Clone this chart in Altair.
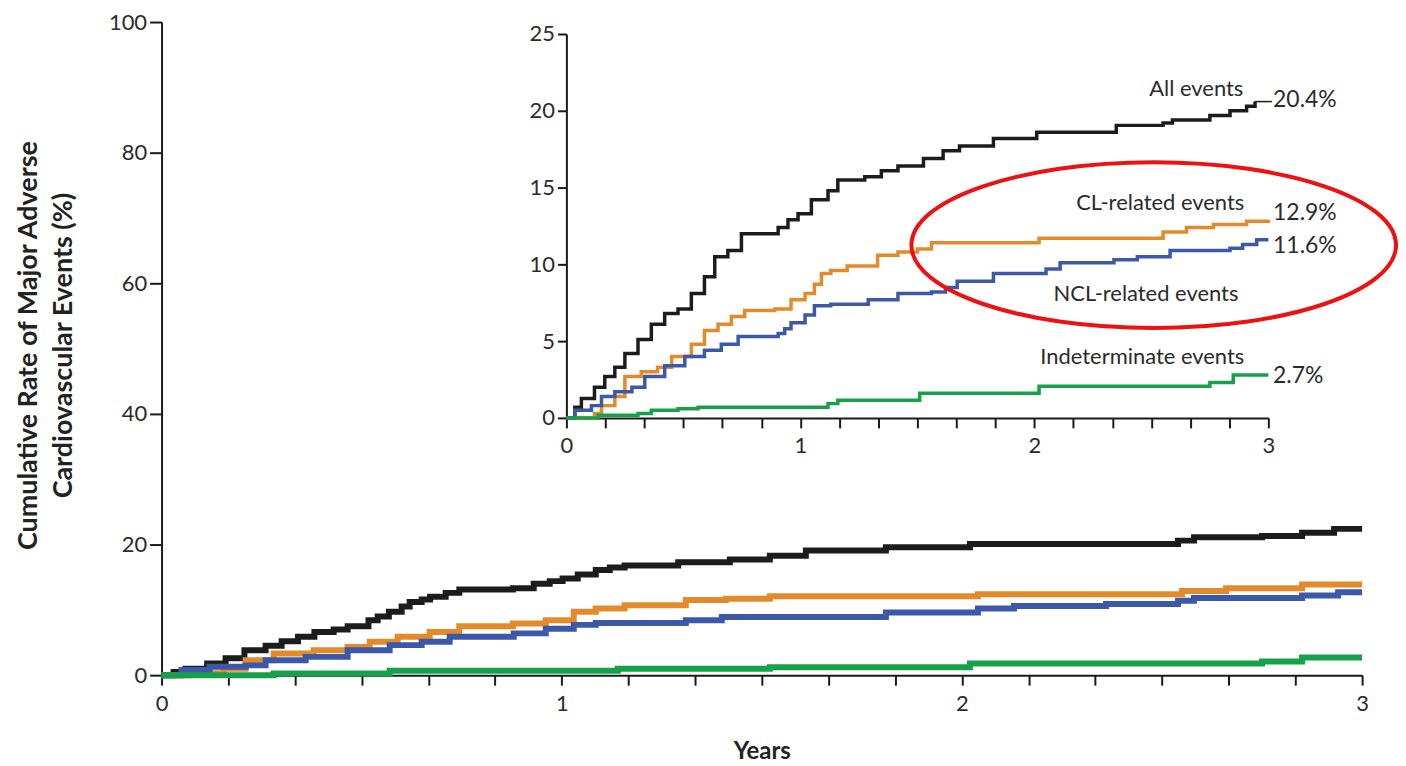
import altair as alt
import pandas as pd

# ---------------- data ----------------
series_names = ["All events", "CL-related events", "NCL-related events", "Indeterminate events"]
series_colors = ["#1c1c1c", "#e38a2a", "#3c58a8", "#17a04a"]

# main panel (0-100 %)
main_all_x = [0, 0.03, 0.06, 0.114, 0.16, 0.207, 0.26, 0.30, 0.341, 0.382, 0.43, 0.465, 0.517, 0.54, 0.568, 0.60, 0.620, 0.65, 0.671, 0.71, 0.744, 0.878, 0.93, 0.97, 1.002, 1.04, 1.085, 1.12, 1.157, 1.291, 1.42, 1.52, 1.61, 1.81, 2.02, 2.54, 2.58, 2.75, 2.85, 2.93, 3.0]
main_all_y = [0, 0.5, 1.0, 1.8, 2.6, 3.8, 4.5, 5.2, 5.9, 6.6, 7.0, 7.5, 8.4, 9.0, 9.7, 10.5, 11.2, 11.6, 12.0, 12.6, 13.1, 13.3, 14.0, 14.4, 14.8, 15.4, 16.1, 16.5, 16.8, 17.3, 17.7, 18.3, 19.1, 19.6, 20.1, 20.6, 21.1, 21.3, 21.8, 22.4, 22.4]
main_cl_x = [0, 0.07, 0.155, 0.21, 0.28, 0.38, 0.465, 0.52, 0.59, 0.67, 0.744, 0.878, 0.96, 1.03, 1.085, 1.157, 1.31, 1.41, 1.52, 2.04, 2.55, 2.66, 2.85, 3.0]
main_cl_y = [0, 0.3, 1.0, 2.3, 3.3, 3.8, 4.3, 5.1, 5.9, 6.6, 7.5, 7.9, 8.4, 9.7, 10.2, 10.7, 11.5, 11.7, 12.1, 12.4, 12.9, 13.3, 13.9, 13.9]
main_ncl_x = [0, 0.05, 0.12, 0.21, 0.26, 0.36, 0.465, 0.57, 0.65, 0.72, 0.88, 0.96, 1.03, 1.085, 1.31, 1.40, 1.81, 2.04, 2.13, 2.36, 2.54, 2.58, 2.85, 2.94, 3.0]
main_ncl_y = [0, 0.8, 1.3, 1.5, 2.3, 2.8, 3.8, 4.6, 5.1, 5.9, 6.4, 7.1, 7.7, 8.0, 8.4, 8.9, 9.6, 10.2, 10.6, 10.9, 11.4, 11.8, 12.2, 12.7, 12.7]
main_ind_x = [0, 0.28, 0.57, 1.14, 1.52, 2.02, 2.75, 2.85, 3.0]
main_ind_y = [0, 0.25, 0.66, 1.0, 1.2, 1.8, 2.1, 2.7, 2.7]

# inset panel (0-25 %)
ins_all_x = [0, 0.036, 0.064, 0.12, 0.164, 0.207, 0.25, 0.306, 0.363, 0.42, 0.477, 0.534, 0.59, 0.634, 0.69, 0.748, 0.905, 0.947, 0.99, 1.047, 1.118, 1.16, 1.275, 1.346, 1.417, 1.526, 1.61, 1.68, 1.825, 2.01, 2.35, 2.55, 2.59, 2.75, 2.836, 2.907, 2.943]
ins_all_y = [0, 0.7, 1.26, 2.0, 2.7, 3.3, 4.2, 5.1, 6.1, 6.8, 7.1, 8.1, 9.2, 10.5, 10.9, 12.0, 12.4, 12.9, 13.3, 14.2, 14.8, 15.5, 15.7, 16.1, 16.4, 16.9, 17.4, 17.7, 18.2, 18.6, 19.05, 19.2, 19.4, 19.7, 20.0, 20.3, 20.6]
ins_cl_x = [0, 0.12, 0.15, 0.207, 0.25, 0.32, 0.39, 0.45, 0.534, 0.59, 0.648, 0.705, 0.762, 0.89, 0.96, 1.02, 1.06, 1.09, 1.13, 1.2, 1.33, 1.417, 1.50, 1.56, 2.02, 2.55, 2.65, 2.765, 2.907, 3.0]
ins_cl_y = [0, 0.28, 0.8, 1.4, 2.7, 3.0, 3.3, 4.0, 4.8, 5.7, 6.1, 6.6, 7.0, 7.1, 7.7, 8.1, 8.7, 9.4, 9.6, 9.9, 10.6, 10.8, 11.0, 11.4, 11.7, 12.1, 12.4, 12.6, 12.8, 12.9]
ins_ncl_x = [0, 0.036, 0.107, 0.15, 0.207, 0.28, 0.335, 0.42, 0.506, 0.59, 0.662, 0.734, 0.905, 0.933, 0.96, 1.02, 1.06, 1.13, 1.29, 1.417, 1.56, 1.62, 1.67, 1.825, 2.05, 2.11, 2.34, 2.44, 2.58, 2.836, 2.89, 2.95, 3.0]
ins_ncl_y = [0, 0.5, 0.8, 1.4, 1.7, 2.0, 2.7, 3.4, 4.0, 4.4, 4.8, 5.3, 5.5, 5.8, 6.2, 6.7, 7.3, 7.4, 7.7, 8.1, 8.2, 8.5, 8.9, 9.4, 9.7, 10.1, 10.3, 10.5, 10.9, 11.05, 11.3, 11.6, 11.6]
ins_ind_x = [0, 0.135, 0.306, 0.363, 0.477, 0.563, 1.118, 1.16, 1.51, 2.02, 2.75, 2.85, 3.0]
ins_ind_y = [0, 0.17, 0.28, 0.5, 0.6, 0.7, 0.93, 1.15, 1.6, 2.06, 2.3, 2.8, 2.8]

# inset labels
name_labels = ["All events", "CL-related events", "NCL-related events", "Indeterminate events"]
name_x = [2.893, 2.897, 2.872, 2.897]
name_y = [21.4, 14.0, 8.1, 3.95]
pct_labels = ["20.4%", "12.9%", "11.6%", "2.7%"]
pct_x = [3.02, 3.02, 3.02, 3.02]
pct_y = [20.7, 13.35, 11.2, 2.7]
leader_x = [2.943]
leader_x2 = [3.015]
leader_y = [20.6]

# highlight ellipse (inset coordinates)
ellipse_x = [2.51]
ellipse_y = [11.25]

year_ticks = [i / 6 for i in range(19)]
main_y_ticks = [0, 20, 40, 60, 80, 100]
inset_y_ticks = [0, 5, 10, 15, 20, 25]

FONT = "Lato"
TXT = "#2b2b2b"

# ---------------- build tables ----------------
def long(xs_list, ys_list):
    rows = []
    for name, xs, ys in zip(series_names, xs_list, ys_list):
        for i, (x, y) in enumerate(zip(xs, ys)):
            rows.append({"series": name, "year": x, "rate": y, "order": i})
    return pd.DataFrame(rows)

main_df = long([main_all_x, main_cl_x, main_ncl_x, main_ind_x],
               [main_all_y, main_cl_y, main_ncl_y, main_ind_y])
ins_df = long([ins_all_x, ins_cl_x, ins_ncl_x, ins_ind_x],
              [ins_all_y, ins_cl_y, ins_ncl_y, ins_ind_y])
name_df = pd.DataFrame({"label": name_labels, "x": name_x, "y": name_y})
pct_df = pd.DataFrame({"label": pct_labels, "x": pct_x, "y": pct_y})
leader_df = pd.DataFrame({"x": leader_x, "x2": leader_x2, "y": leader_y})
ell_df = pd.DataFrame({"x": ellipse_x, "y": ellipse_y})

W, H = 1204, 655
color_scale = alt.Scale(domain=series_names, range=series_colors)
int_labels = "datum.value % 1 == 0 ? format(datum.value, 'd') : ''"

# ---------------- main panel ----------------
main = alt.Chart(main_df).mark_line(interpolate="step-after", strokeWidth=6).encode(
    x=alt.X("year:Q", scale=alt.Scale(domain=[0, 3], nice=False, zero=False),
            axis=alt.Axis(values=year_ticks, labelExpr=int_labels, labelFlush=False,
                          title="Years", titleFontSize=24, titleFontWeight="bold", titleColor="#222",
                          titlePadding=26, tickSize=10, labelPadding=8, grid=False)),
    y=alt.Y("rate:Q", scale=alt.Scale(domain=[0, 100], nice=False),
            axis=alt.Axis(values=main_y_ticks, format="d", grid=False, tickSize=12, labelPadding=3,
                          labelFlush=False,
                          title=["Cumulative Rate of Major Adverse", "Cardiovascular Events (%)"],
                          titleFontSize=27, titleFontWeight="bold", titleColor="#222",
                          titleAngle=270, titleX=-133, titleY=324, titleAlign="center",
                          titleBaseline="middle", titleLineHeight=35)),
    color=alt.Color("series:N", scale=color_scale, legend=None),
    order="order:Q",
)

# ---------------- inset panel ----------------
ix_scale = alt.Scale(domain=[0, 3], range=[406, 1110], nice=False, zero=False)
iy_scale = alt.Scale(domain=[0, 25], range=[397, 12], nice=False)
ix_axis = alt.Axis(orient="bottom", offset=-258, values=year_ticks, labelExpr=int_labels,
                   labelFlush=False, title=None, tickSize=10, labelPadding=8, grid=False)
iy_axis = alt.Axis(orient="left", offset=-406, values=inset_y_ticks, format="d", title=None,
                   labelFlush=False, tickSize=9, labelPadding=3, grid=False)

ins_lines = alt.Chart(ins_df).mark_line(interpolate="step-after", strokeWidth=3.5).encode(
    x=alt.X("year:Q", scale=ix_scale, axis=ix_axis),
    y=alt.Y("rate:Q", scale=iy_scale, axis=iy_axis),
    color=alt.Color("series:N", scale=color_scale, legend=None),
    order="order:Q",
)
ins_leader = alt.Chart(leader_df).mark_rule(color="#1c1c1c", strokeWidth=1.5).encode(
    x=alt.X("x:Q", scale=ix_scale, axis=ix_axis), x2="x2:Q",
    y=alt.Y("y:Q", scale=iy_scale, axis=iy_axis),
)
ins_names = alt.Chart(name_df).mark_text(align="right", baseline="middle", font=FONT,
                                         fontSize=22, color=TXT).encode(
    x=alt.X("x:Q", scale=ix_scale, axis=ix_axis),
    y=alt.Y("y:Q", scale=iy_scale, axis=iy_axis),
    text="label:N",
)
ins_pct = alt.Chart(pct_df).mark_text(align="left", baseline="middle", font=FONT,
                                      fontSize=23, color=TXT).encode(
    x=alt.X("x:Q", scale=ix_scale, axis=ix_axis),
    y=alt.Y("y:Q", scale=iy_scale, axis=iy_axis),
    text="label:N",
)
ins_ellipse = alt.Chart(ell_df).mark_point(
    shape="M -1 0 A 1 0.342 0 1 0 1 0 A 1 0.342 0 1 0 -1 0 Z",
    size=486 * 486, filled=False, stroke="#ee1111", strokeWidth=4, opacity=1,
).encode(
    x=alt.X("x:Q", scale=ix_scale, axis=ix_axis),
    y=alt.Y("y:Q", scale=iy_scale, axis=iy_axis),
)

inset = alt.layer(ins_lines, ins_leader, ins_names, ins_pct, ins_ellipse)

chart = alt.layer(main, inset).resolve_scale(x="independent", y="independent").properties(
    width=W, height=H, autosize="none",
    padding={"left": 154, "top": 13, "right": 36, "bottom": 88},
).configure_view(stroke=None).configure_axis(
    domainColor="#1a1a1a", domainWidth=2, tickColor="#1a1a1a", tickWidth=2,
    labelFont=FONT, labelFontSize=22, labelColor=TXT, titleFont=FONT,
)

chart.save("out.html", embed_options={"renderer": "svg", "actions": False})
